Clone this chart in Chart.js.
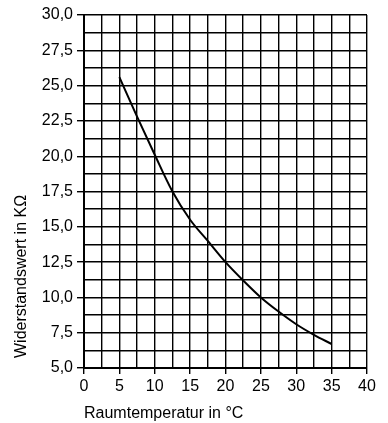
<!DOCTYPE html>
<html><head><meta charset="utf-8">
<script src="https://cdn.jsdelivr.net/npm/chart.js"></script>
<style>html,body{margin:0;padding:0;background:#fff}#wrap{width:388px;height:423px}</style>
</head><body><div id="wrap"><canvas id="c" width="388" height="423"></canvas></div>
<script>
const temperatures = [5, 7.5, 10, 12.5, 15, 17.5, 20, 22.5, 25, 27.5, 30, 32.5, 35];
const resistances = [25.6, 22.8, 20.1, 17.5, 15.5, 14.0, 12.5, 11.2, 10.0, 9.0, 8.1, 7.35, 6.7];
const xTitle = 'Raumtemperatur in °C';
const yTitle = 'Widerstandswert in KΩ';

const FONT = {family: '"Liberation Sans", Arial, sans-serif', size: 16};
const yTitlePlugin = {
  id: 'yTitle',
  afterDraw(chart) {
    const ctx = chart.ctx, a = chart.chartArea;
    ctx.save();
    ctx.translate(22, a.bottom - 10);
    ctx.rotate(-Math.PI / 2);
    ctx.font = '16px "Liberation Sans", Arial, sans-serif';
    ctx.fillStyle = '#000';
    ctx.textAlign = 'left';
    ctx.textBaseline = 'middle';
    ctx.fillText(yTitle, 0, 0);
    ctx.restore();
  }
};
new Chart(document.getElementById('c'), {
  type: 'line',
  data: {datasets: [{
    data: temperatures.map((t, i) => ({x: t, y: resistances[i]})),
    borderColor: '#000', borderWidth: 2, pointRadius: 0,
    cubicInterpolationMode: 'monotone', fill: false
  }]},
  plugins: [yTitlePlugin],
  options: {
    responsive: false, animation: false,
    layout: {padding: {left: 0, top: 15, right: 21, bottom: 0}},
    plugins: {legend: {display: false}, tooltip: {enabled: false}},
    scales: {
      x: {
        type: 'linear', min: 0, max: 40,
        afterFit: s => { s.height = 55; },
        border: {color: '#000', width: 2},
        grid: {color: '#000', lineWidth: 1.4, tickLength: 6,
               tickColor: c => (c.tick && c.tick.value % 5 === 0) ? '#000' : 'rgba(0,0,0,0)'},
        ticks: {stepSize: 2.5, autoSkip: false, maxRotation: 0, color: '#000', font: FONT, padding: 3,
                callback: v => v % 5 === 0 ? String(v) : ''},
        title: {display: true, text: xTitle, align: 'start', color: '#000', font: FONT, padding: {top: 1, bottom: 0}}
      },
      y: {
        type: 'linear', min: 5, max: 30,
        afterFit: s => { s.width = 84; },
        border: {color: '#000', width: 2},
        grid: {color: '#000', lineWidth: 1.4, tickLength: 7,
               tickColor: c => (c.tick && c.tick.value % 2.5 === 0) ? '#000' : 'rgba(0,0,0,0)'},
        ticks: {stepSize: 1.25, autoSkip: false, color: '#000', font: FONT, padding: 4,
                callback: v => v % 2.5 === 0 ? v.toFixed(1).replace('.', ',') : ''},
        title: {display: false}
      }
    }
  }
});
</script></body></html>
